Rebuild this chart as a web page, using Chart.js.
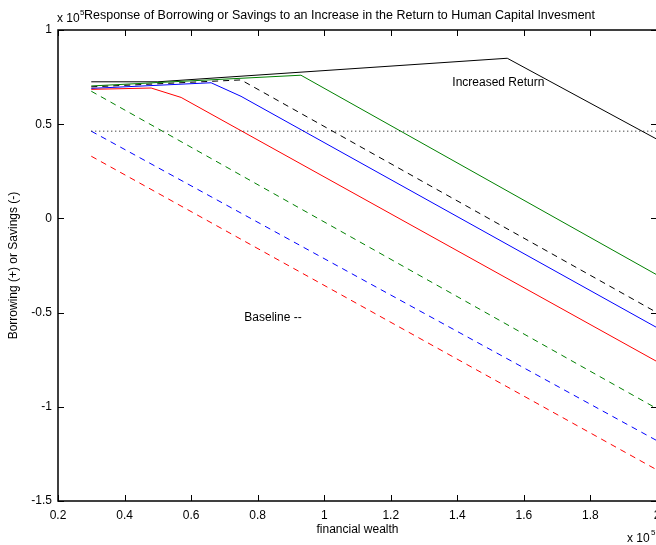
<!DOCTYPE html>
<html>
<head>
<meta charset="utf-8">
<script src="https://cdn.jsdelivr.net/npm/chart.js@4/dist/chart.umd.min.js"></script>
<style>
  html, body { margin: 0; padding: 0; background: #fff; overflow: hidden; width: 656px; height: 545px; }
  canvas { display: block; }
</style>
</head>
<body>
<canvas id="c" width="680" height="545"></canvas>
<script>
// ---- data (financial wealth and borrowing/savings, both in units of 10^5) ----
const xTicks = [0.2, 0.4, 0.6, 0.8, 1, 1.2, 1.4, 1.6, 1.8, 2];
const yTicks = [-1.5, -1, -0.5, 0, 0.5, 1];

const incBlackX = [0.3, 0.5, 1.55, 2.0];
const incBlackY = [0.725, 0.725, 0.85, 0.42];
const incGreenX = [0.3, 0.93, 2.0];
const incGreenY = [0.703, 0.76, -0.30];
const baseBlackX = [0.3, 0.75, 2.0];
const baseBlackY = [0.698, 0.735, -0.50];
const incBlueX = [0.3, 0.66, 0.75, 2.0];
const incBlueY = [0.69, 0.72, 0.648, -0.58];
const incRedX = [0.3, 0.48, 0.57, 2.0];
const incRedY = [0.685, 0.692, 0.642, -0.76];
const baseGreenX = [0.3, 2.0];
const baseGreenY = [0.675, -1.01];
const baseBlueX = [0.3, 2.0];
const baseBlueY = [0.463, -1.18];
const baseRedX = [0.3, 2.0];
const baseRedY = [0.33, -1.335];
const refLineX = [0.3, 2.0];
const refLineY = [0.463, 0.463];

const titleText = 'Response of Borrowing or Savings to an Increase in the Return to Human Capital Invesment';
const xTitle = 'financial wealth';
const yTitle = 'Borrowing (+) or Savings (-)';
const noteTexts = ['Increased Return', 'Baseline --'];
const noteX = [1.385, 0.76];
const noteY = [0.72, -0.525];

const FONT = "'Liberation Sans', Arial, Helvetica, sans-serif";
const pts = (xs, ys) => xs.map((x, i) => ({x: x, y: ys[i]}));
const ds = (xs, ys, color, dash) => ({
  data: pts(xs, ys), borderColor: color, borderWidth: 1, borderDash: dash || [],
  pointRadius: 0, tension: 0, fill: false
});

const DASH = [6, 5];
const datasets = [
  ds(refLineX, refLineY, '#000000', [1, 3]),
  ds(baseRedX, baseRedY, '#ff0000', DASH),
  ds(baseBlueX, baseBlueY, '#0000ff', DASH),
  ds(baseGreenX, baseGreenY, '#008000', DASH),
  ds(baseBlackX, baseBlackY, '#000000', DASH),
  ds(incRedX, incRedY, '#ff0000'),
  ds(incBlueX, incBlueY, '#0000ff'),
  ds(incGreenX, incGreenY, '#008000'),
  ds(incBlackX, incBlackY, '#000000')
];

const decor = {
  id: 'decor',
  afterDraw(chart) {
    const ctx = chart.ctx;
    const xs = chart.scales.x, ys = chart.scales.y;
    const a = chart.chartArea;
    ctx.save();
    // box
    ctx.strokeStyle = '#000';
    ctx.lineWidth = 1.5;
    ctx.strokeRect(a.left, a.top, a.right - a.left, a.bottom - a.top);
    // inward ticks
    ctx.lineWidth = 1;
    ctx.beginPath();
    xTicks.forEach(v => {
      const p = Math.round(xs.getPixelForValue(v)) + 0.5;
      ctx.moveTo(p, a.bottom); ctx.lineTo(p, a.bottom - 6);
      ctx.moveTo(p, a.top); ctx.lineTo(p, a.top + 6);
    });
    yTicks.forEach(v => {
      const p = Math.round(ys.getPixelForValue(v)) + 0.5;
      ctx.moveTo(a.left, p); ctx.lineTo(a.left + 6, p);
      ctx.moveTo(a.right, p); ctx.lineTo(a.right - 6, p);
    });
    ctx.stroke();
    // notes
    ctx.fillStyle = '#000';
    ctx.font = '12px ' + FONT;
    ctx.textAlign = 'left';
    ctx.textBaseline = 'middle';
    noteTexts.forEach((t, i) => {
      ctx.fillText(t, xs.getPixelForValue(noteX[i]), ys.getPixelForValue(noteY[i]));
    });
    // exponent labels
    ctx.textBaseline = 'alphabetic';
    ctx.font = '12px ' + FONT;
    ctx.fillText('x 10', a.left - 1, 22);
    ctx.font = '8px ' + FONT;
    ctx.fillText('5', a.left + 22, 15);
    ctx.font = '12px ' + FONT;
    ctx.fillText('x 10', 627, 542);
    ctx.font = '8px ' + FONT;
    ctx.fillText('5', 651, 535);
    // title
    ctx.font = '12.5px ' + FONT;
    ctx.textAlign = 'left';
    ctx.fillText(titleText, 84, 19, 511);
    ctx.restore();
  }
};

new Chart(document.getElementById('c'), {
  type: 'line',
  data: { datasets: datasets },
  options: {
    responsive: false,
    animation: false,
    devicePixelRatio: 1,
    layout: { padding: { top: 30, right: 23, left: 0, bottom: 0 } },
    plugins: { legend: { display: false }, tooltip: { enabled: false }, title: { display: false } },
    scales: {
      x: {
        type: 'linear', min: 0.2, max: 2,
        afterBuildTicks: s => { s.ticks = xTicks.map(v => ({value: v})); },
        afterFit: s => { s.height = 44; },
        grid: { display: false, drawTicks: false },
        border: { display: false },
        ticks: { color: '#000', font: { family: FONT, size: 12 }, padding: 7, maxRotation: 0, autoSkip: false,
                 callback: v => String(v) },
        title: { display: true, text: xTitle, color: '#000', font: { family: FONT, size: 12 }, padding: { top: 0, bottom: 8 } }
      },
      y: {
        type: 'linear', min: -1.5, max: 1,
        afterBuildTicks: s => { s.ticks = yTicks.map(v => ({value: v})); },
        afterFit: s => { s.width = 58; },
        grid: { display: false, drawTicks: false },
        border: { display: false },
        ticks: { color: '#000', font: { family: FONT, size: 12 }, padding: 6, autoSkip: false,
                 callback: v => String(v) },
        title: { display: true, text: yTitle, color: '#000', font: { family: FONT, size: 12 }, padding: { top: 6, bottom: 0 } }
      }
    }
  },
  plugins: [decor]
});
</script>
</body>
</html>
